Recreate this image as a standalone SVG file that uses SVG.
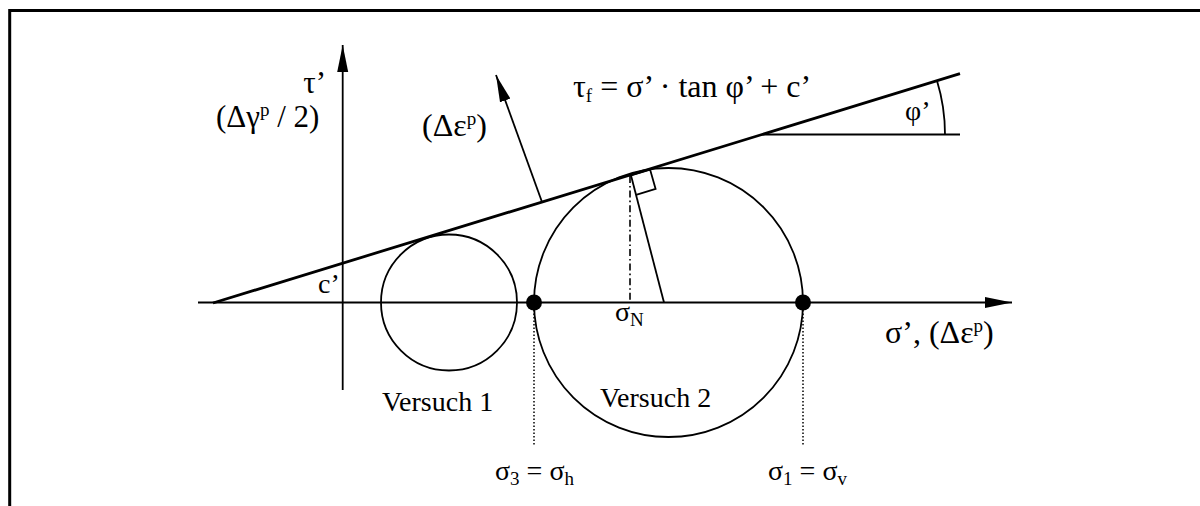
<svg xmlns="http://www.w3.org/2000/svg" width="1200" height="506" viewBox="0 0 1200 506">
<defs>
<style>
text{font-family:"Liberation Serif","Times New Roman",serif;font-size:28px;fill:#000}
.big{font-size:31px}
.big2{font-size:32px}
.sub{font-size:19px}
.ln{stroke:#000;fill:none}
.thin{stroke-width:1.8}
.thick{stroke-width:2.8}
</style>
<marker id="arr" markerUnits="userSpaceOnUse" markerWidth="28" markerHeight="14" viewBox="0 0 28 14" refX="27" refY="7" orient="auto">
<path d="M0,1.5 L27,7 L0,12.5 Z" fill="#000"/>
</marker>
</defs>
<rect width="1200" height="506" fill="#fff"/>
<g id="frame">
<path class="ln" d="M9.7,506 V10.5 H1200" stroke-width="3"/>
</g>
<g id="connectors">
<line id="sigma-axis" class="ln thin" x1="198" y1="302.5" x2="1012" y2="302.5" marker-end="url(#arr)"/>
<line id="tau-axis" class="ln thin" x1="342.7" y1="390" x2="342.7" y2="45" marker-end="url(#arr)"/>
<line id="envelope" class="ln thick" x1="213" y1="303" x2="960" y2="73.7"/>
<line id="phi-ref" class="ln thin" x1="762" y1="134.5" x2="960" y2="134.5"/>
<path id="phi-arc" class="ln thin" d="M945,134.5 A183,183 0 0 0 937,80.8"/>
<line id="normal" class="ln thin" x1="542" y1="202" x2="496" y2="75" marker-end="url(#arr)"/>
<line id="radius" class="ln thin" x1="631" y1="175.5" x2="664" y2="302.5"/>
<path id="right-angle" class="ln thin" d="M631,175.5 L650.1,169.6 L655.6,188.9 L636.1,194.9"/>
<line id="sigmaN-drop" class="ln" stroke-width="1.6" stroke-dasharray="7,3,1.6,3" x1="630" y1="176" x2="630" y2="302"/>
<line id="drop3" class="ln" stroke-width="1.5" stroke-dasharray="1.5,2" x1="534" y1="303" x2="534" y2="445"/>
<line id="drop1" class="ln" stroke-width="1.5" stroke-dasharray="1.5,2" x1="803" y1="303" x2="803" y2="445"/>
</g>
<g id="circle1">
<circle class="ln thin" cx="449" cy="302.5" r="68"/>
</g>
<g id="circle2">
<circle class="ln thin" cx="668.5" cy="302.5" r="134.5"/>
</g>
<g id="point3"><circle cx="534" cy="302.5" r="8" fill="#000"/></g>
<g id="point1"><circle cx="803" cy="302.5" r="8" fill="#000"/></g>
<g id="labels">
<text class="big" x="326" y="93" text-anchor="end">τ’</text>
<text class="big" x="216" y="127">(Δγ<tspan class="sub" dy="-11">p</tspan><tspan dy="11"> / 2)</tspan></text>
<text class="big2" x="422" y="136">(Δε<tspan class="sub" dy="-11">p</tspan><tspan dy="11">)</tspan></text>
<text class="big2" x="573" y="97">τ<tspan class="sub" dy="5">f</tspan><tspan dy="-5"> = σ’ · tan φ’ + c’</tspan></text>
<text x="905" y="120">φ’</text>
<text x="318" y="293">c’</text>
<text x="615" y="321">σ<tspan class="sub" dy="5">N</tspan></text>
<text class="big2" x="885" y="343">σ’, (Δε<tspan class="sub" dy="-11">p</tspan><tspan dy="11">)</tspan></text>
<text x="382" y="410.5">Versuch 1</text>
<text x="600" y="407">Versuch 2</text>
<text x="495" y="480">σ<tspan class="sub" dy="5">3</tspan><tspan dy="-5"> = σ</tspan><tspan class="sub" dy="5">h</tspan></text>
<text x="768" y="480">σ<tspan class="sub" dy="5">1</tspan><tspan dy="-5"> = σ</tspan><tspan class="sub" dy="5">v</tspan></text>
</g>
</svg>
